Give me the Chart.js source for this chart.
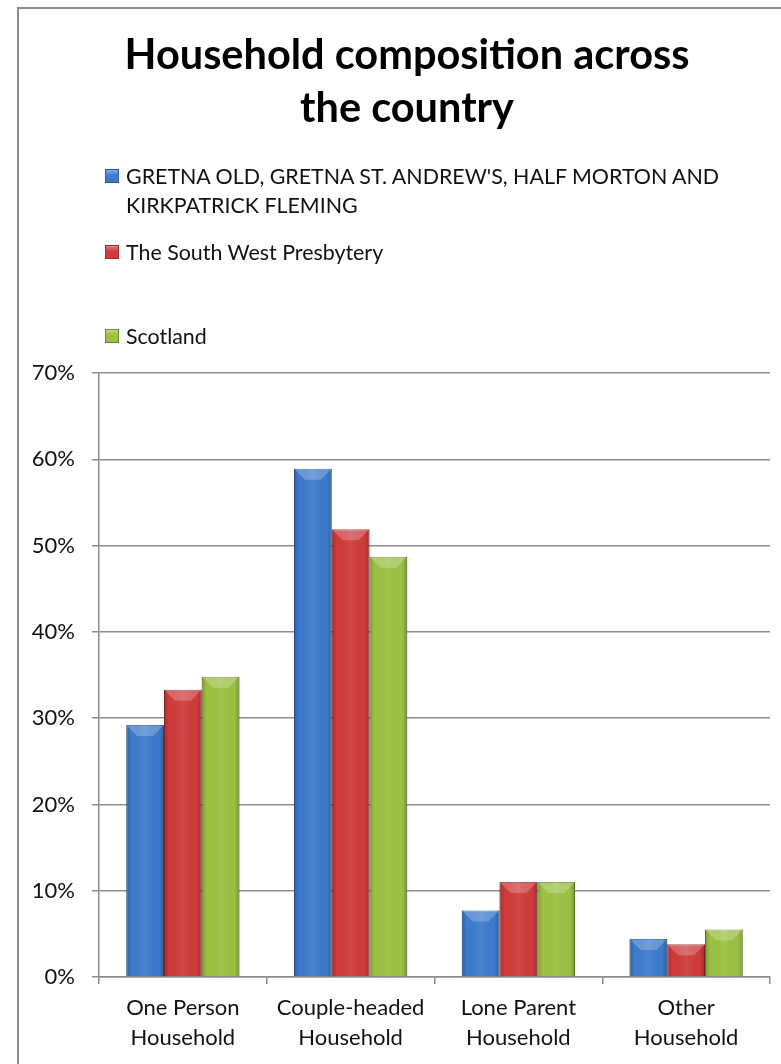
<!DOCTYPE html>
<html>
<head>
<meta charset="utf-8">
<title>Household composition across the country</title>
<script src="https://cdn.jsdelivr.net/npm/chart.js@4.4.1/dist/chart.umd.min.js"></script>
<style>
    html, body { margin: 0; padding: 0; background: #fff; overflow: hidden; }
    body { width: 781px; height: 1064px; position: relative; font-family: Lato, 'Open Sans', sans-serif; }
    .frame {
        position: absolute; left: 17px; top: 7px; width: 800px; height: 1100px;
        border: 2px solid #8c8c8c; box-sizing: border-box;
    }
    .chart-box { position: absolute; left: 0; top: 0; width: 781px; height: 1064px; }

    #chartTitle {
        position: absolute; left: 107px; top: 27px; width: 600px; margin: 0;
        text-align: center; font-size: 41.5px; line-height: 53px; font-weight: bold; color: #000;
    }

    /* legend is built from the chart datasets */
    #legend {
        position: absolute; left: 105px; top: 162px; margin: 0; padding: 0;
        list-style: none; font-size: 21.4px; line-height: 29px; color: #111;
    }
    #legend li { display: flex; align-items: flex-start; }
    #legend li:nth-child(2) { margin-top: 18px; }
    #legend li:nth-child(3) { margin-top: 55px; }
    #legend .swatch { width: 14px; height: 14px; margin: 7px 7px 0 0; flex: none; box-sizing: border-box; }
    #legend .label { width: 620px; }
</style>
</head>
<body>
<div class="frame"></div>
<div class="chart-box"><canvas id="householdChart"></canvas></div>
<h1 id="chartTitle"></h1>
<ul id="legend"></ul>

<script>
// ---- data ----
const titleLines = ['Household composition across', 'the country'];
const categories = [
    ['One Person', 'Household'],
    ['Couple-headed', 'Household'],
    ['Lone Parent', 'Household'],
    ['Other', 'Household']
];
const seriesNames = [
    "GRETNA OLD, GRETNA ST. ANDREW'S, HALF MORTON AND KIRKPATRICK FLEMING",
    'The South West Presbytery',
    'Scotland'
];
const gretnaValues     = [29.2, 58.9, 7.7, 4.4];
const presbyteryValues = [33.3, 51.9, 11.0, 3.8];
const scotlandValues   = [34.8, 48.7, 11.0, 5.5];
const yMin = 0, yMax = 70, yStep = 10;

const fills   = ['#3d7bcd', '#d03b3b', '#9bc243'];
const borders = ['#2a5a9c', '#9e2a2a', '#6f8d2c'];

Chart.defaults.font.family = "Lato, 'Open Sans', sans-serif";
Chart.defaults.color = '#111';

/* =============================
   BAR SHADING (rough bevel look)
============================= */
const barBevel = {
    id: 'barBevel',
    afterDatasetsDraw(chart) {
        const ctx = chart.ctx;
        chart.data.datasets.forEach((ds, i) => {
            chart.getDatasetMeta(i).data.forEach(bar => {
                const { x, y, base, width } = bar.getProps(['x', 'y', 'base', 'width'], true);
                const left = x - width / 2, right = x + width / 2;
                const h = base - y;
                const b = Math.min(11, h / 2, width / 3);
                ctx.save();
                const g = ctx.createLinearGradient(left, 0, right, 0);
                g.addColorStop(0, 'rgba(0,0,0,0.20)');
                g.addColorStop(0.14, 'rgba(0,0,0,0)');
                g.addColorStop(0.5, 'rgba(255,255,255,0.07)');
                g.addColorStop(0.86, 'rgba(0,0,0,0)');
                g.addColorStop(1, 'rgba(0,0,0,0.22)');
                ctx.fillStyle = g;
                ctx.fillRect(left, y, width, h);

                ctx.beginPath();
                ctx.moveTo(left, y);
                ctx.lineTo(right, y);
                ctx.lineTo(right - b, y + b);
                ctx.lineTo(left + b, y + b);
                ctx.closePath();
                ctx.fillStyle = 'rgba(255,255,255,0.22)';
                ctx.fill();
                ctx.restore();
            });
        });
    }
};

function makeDataset(i, values) {
    return {
        label: seriesNames[i],
        data: values,
        backgroundColor: fills[i],
        borderColor: borders[i],
        borderWidth: 1,
        borderSkipped: 'bottom',
        categoryPercentage: 0.675,
        barPercentage: 1.0
    };
}

const chart = new Chart(document.getElementById('householdChart'), {
    type: 'bar',
    data: {
        labels: categories,
        datasets: [
            makeDataset(0, gretnaValues),
            makeDataset(1, presbyteryValues),
            makeDataset(2, scotlandValues)
        ]
    },
    options: {
        responsive: true,
        maintainAspectRatio: false,
        animation: false,
        layout: { padding: { left: 0, right: 11, top: 373, bottom: 0 } },
        plugins: {
            legend: { display: false },
            tooltip: { enabled: false },
            title: { display: false }
        },
        scales: {
            x: {
                grid: { drawOnChartArea: false, drawTicks: true, tickLength: 7, color: '#8c8c8c', lineWidth: 1.5 },
                border: { color: '#8c8c8c', width: 1.5 },
                ticks: { font: { size: 22, lineHeight: 30 / 22 }, padding: 9, maxRotation: 0, autoSkip: false },
                afterFit: s => { s.height = 87; }
            },
            y: {
                min: yMin,
                max: yMax,
                grid: { color: '#8c8c8c', lineWidth: 1.5, tickLength: 7 },
                border: { color: '#8c8c8c', width: 1.5 },
                ticks: { stepSize: yStep, padding: 17, font: { size: 22 }, callback: v => v + '%' },
                afterFit: s => { s.width = 99; }
            }
        }
    },
    plugins: [barBevel]
});

/* =============================
   TITLE + HTML LEGEND
============================= */
document.getElementById('chartTitle').innerHTML = titleLines.join('<br>');

function buildLegend(chart) {
    const list = document.getElementById('legend');
    list.innerHTML = '';
    chart.data.datasets.forEach((ds, i) => {
        const li = document.createElement('li');
        const sw = document.createElement('span');
        sw.className = 'swatch';
        sw.style.background = `linear-gradient(to bottom, rgba(255,255,255,0.35), rgba(255,255,255,0) 45%), ${ds.backgroundColor}`;
        sw.style.border = `1px solid ${ds.borderColor}`;
        const txt = document.createElement('span');
        txt.className = 'label';
        txt.textContent = ds.label;
        li.appendChild(sw);
        li.appendChild(txt);
        list.appendChild(li);
    });
}
buildLegend(chart);
</script>
</body>
</html>
